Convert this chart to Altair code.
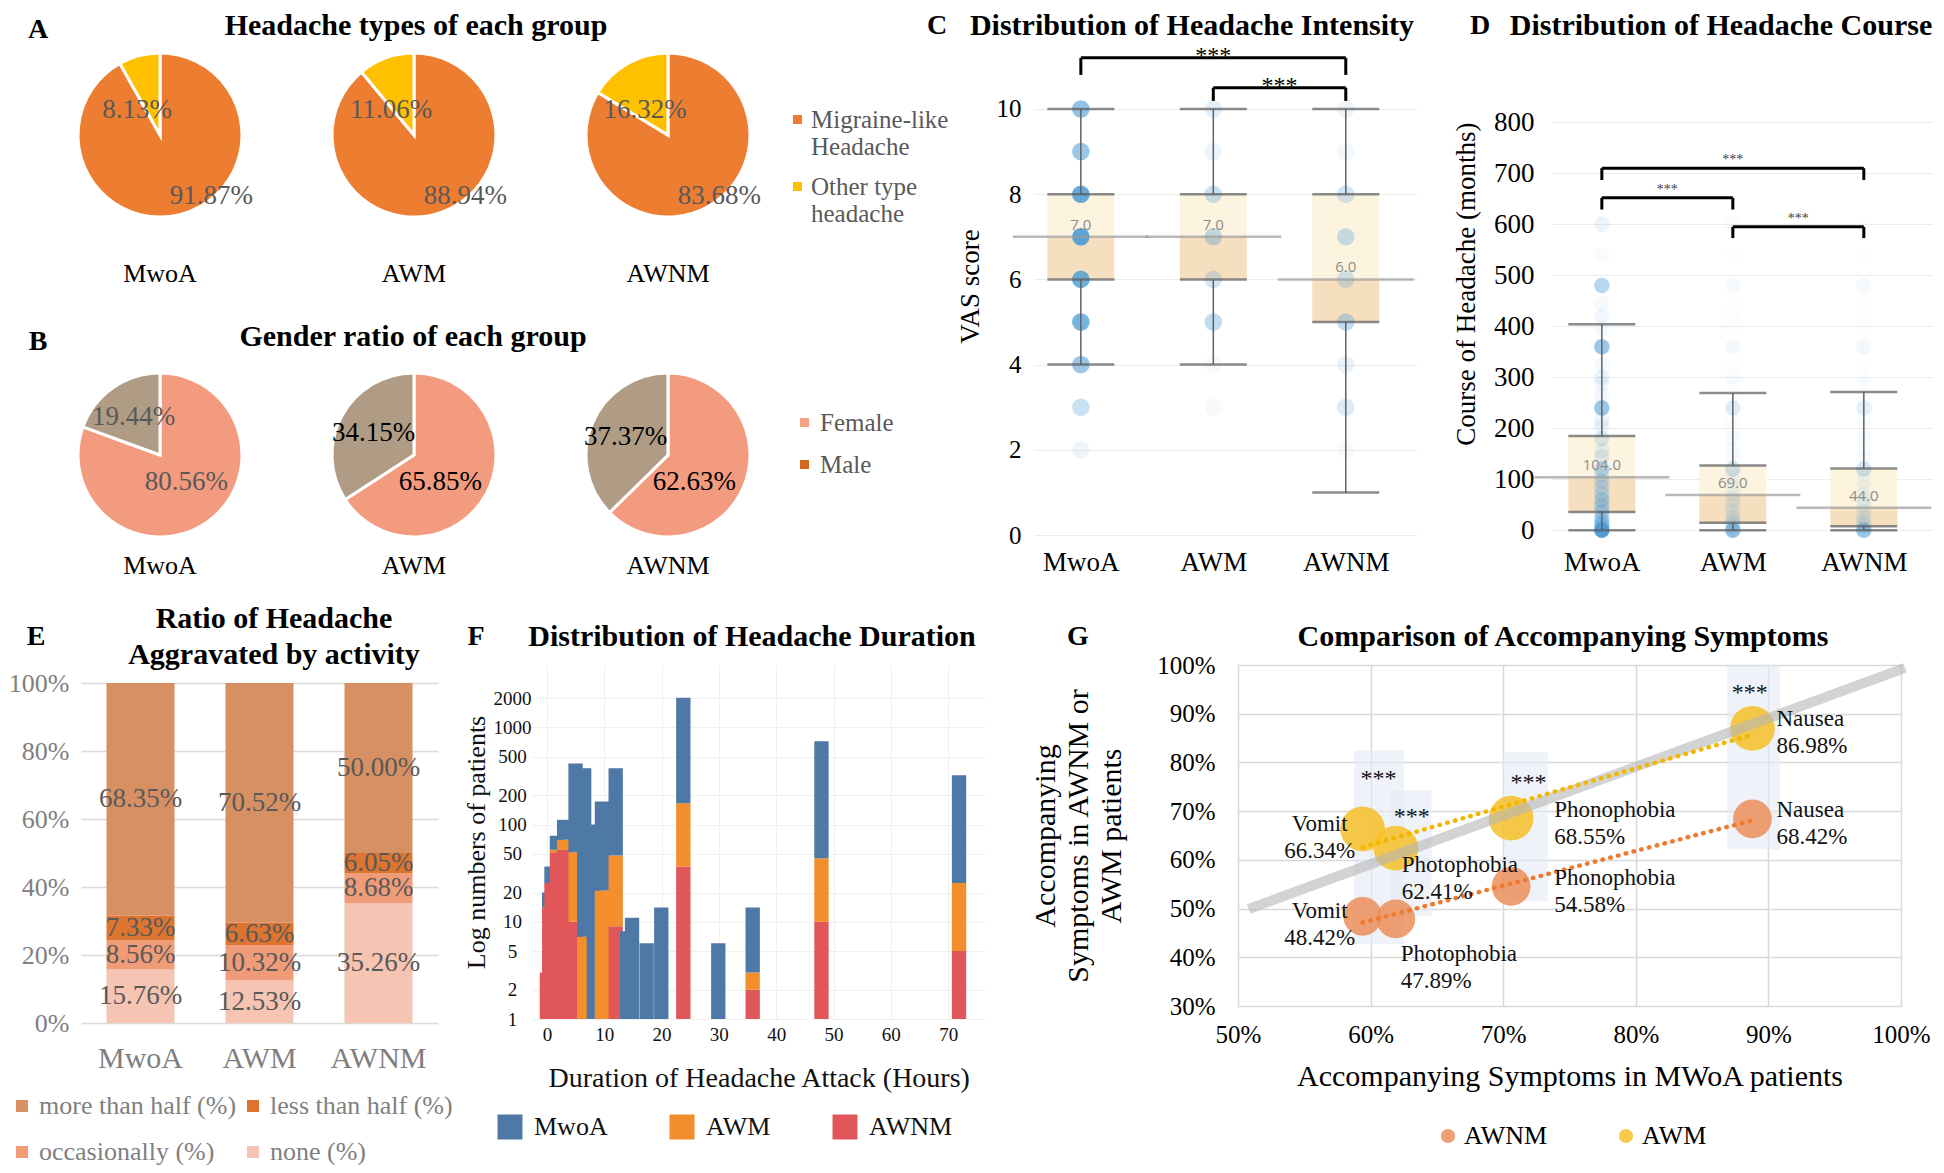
import altair as alt
import pandas as pd

SERIF = "Liberation Serif"
SANS = "Open Sans"

groups = ["MwoA", "AWM", "AWNM"]

# ---------------- Panel A : headache types (%)
type_names = ["Migraine-like|Headache", "Other type|headache"]
migraine_like = [91.87, 88.94, 83.68]
other_type = [8.13, 11.06, 16.32]

# ---------------- Panel B : gender (%)
sex_names = ["Female", "Male"]
female = [80.56, 65.85, 62.63]
male = [19.44, 34.15, 37.37]

# ---------------- Panel C : VAS score
vas_scores = [1, 2, 3, 4, 5, 6, 7, 8, 9, 10]
vas_mwoa = [0.0, 0.1, 0.3, 0.55, 0.75, 0.8, 0.9, 0.85, 0.55, 0.6]
vas_awm = [0.0, 0.0, 0.05, 0.05, 0.35, 0.25, 0.35, 0.3, 0.1, 0.15]
vas_awnm = [0.0, 0.05, 0.2, 0.12, 0.35, 0.25, 0.3, 0.25, 0.07, 0.1]
vas_low = [4, 4, 1]
vas_q1 = [6, 6, 5]
vas_med = [7, 7, 6]
vas_q3 = [8, 8, 8]
vas_high = [10, 10, 10]
vas_sig_from = [0, 1]
vas_sig_to = [2, 2]
vas_sig_level = [11.2, 10.5]
vas_sig_leg = [10.8, 10.19]

# ---------------- Panel D : course of headache (months)
course_months = [0, 6, 12, 18, 24, 36, 48, 60, 72, 84, 96, 108, 120, 144, 156, 180,
                 204, 216, 240, 264, 288, 300, 324, 360, 396, 420, 444, 480, 540, 600]
course_mwoa = [0.95, 0.35, 0.4, 0.25, 0.35, 0.35, 0.3, 0.35, 0.25, 0.2, 0.25, 0.15, 0.35, 0.15,
               0.12, 0.2, 0.1, 0.1, 0.55, 0.08, 0.08, 0.12, 0.06, 0.55, 0.06, 0.08, 0.05, 0.4, 0.04, 0.1]
course_awm = [0.6, 0.12, 0.15, 0.1, 0.12, 0.12, 0.1, 0.12, 0.06, 0.05, 0.06, 0.04, 0.25, 0.04,
              0.03, 0.05, 0.02, 0.02, 0.18, 0.02, 0.02, 0.03, 0.01, 0.07, 0.01, 0.02, 0.01, 0.05, 0.01, 0.03]
course_awnm = [0.55, 0.1, 0.12, 0.08, 0.1, 0.1, 0.08, 0.1, 0.05, 0.04, 0.05, 0.03, 0.25, 0.04,
               0.02, 0.04, 0.02, 0.02, 0.14, 0.02, 0.02, 0.02, 0.01, 0.07, 0.01, 0.02, 0.01, 0.06, 0.01, 0.02]
course_low = [0, 0, 0]
course_q1 = [36, 15, 8]
course_med = [104, 69, 44]
course_q3 = [185, 127, 121]
course_high = [404, 269, 271]
course_sig_from = [0, 0, 1]
course_sig_to = [2, 1, 2]
course_sig_level = [710, 652, 595]
course_sig_leg = [687, 629, 573]

# ---------------- Panel E : aggravated by activity (%)
act_cats = ["more than half (%)", "occasionally (%)", "less than half (%)", "none (%)"]
act_colors = ["#D79062", "#F09C78", "#DD7530", "#F6C4B2"]
act_more = [68.35, 70.52, 50.00]
act_less = [7.33, 6.63, 6.05]
act_occ = [8.56, 10.32, 8.68]
act_none = [15.76, 12.53, 35.26]

# ---------------- Panel F : duration of headache attack (hours) - patient counts
dur_hours = [0.0, 0.4, 0.8, 1.75, 3.0, 5.0, 6.5, 8.2, 9.6, 12.0, 14.0, 14.85, 17.4, 19.95,
             23.8, 29.9, 35.9, 47.9, 71.9]
dur_awnm = [3, 14, 25, 52, 55, 10, 0, 0, 0, 9, 0, 0, 0, 0, 37, 0, 2, 10, 5]
dur_awm = [0, 0, 0, 3, 15, 42, 7, 0, 21, 39, 0, 0, 0, 0, 129, 0, 1, 35, 20]
dur_mwoa = [0, 6, 12, 22, 42, 372, 373, 100, 152, 332, 8, 11, 6, 14, 1854, 6, 11, 675, 296]

# ---------------- Panel G : accompanying symptoms (%)
symptoms = ["Vomit", "Photophobia", "Phonophobia", "Nausea"]
sym_mwoa = [59.4, 61.9, 70.6, 88.8]
sym_awm = [66.34, 62.41, 68.55, 86.98]
sym_awnm = [48.42, 47.89, 54.58, 68.42]
sig_box_x0 = [58.75, 61.5, 69.95, 86.9]
sig_box_x1 = [62.5, 64.6, 73.4, 90.9]
sig_box_y0 = [42.7, 48.5, 51.5, 62.2]
sig_box_y1 = [82.5, 74.3, 82.1, 99.8]
sig_star_x = [60.6, 63.1, 71.9, 88.6]
sig_star_y = [77.6, 69.8, 76.8, 95.3]
ref_x = [50.8, 100.3]
ref_y = [49.9, 99.4]

GROUP_EXPR = "datum.value == 0 ? 'MwoA' : datum.value == 1 ? 'AWM' : 'AWNM'"


def spacer(w):
    return alt.Chart(pd.DataFrame({"z": [0]})).mark_point(opacity=0).encode(
        x=alt.value(0), y=alt.value(0)).properties(width=w, height=10)


def label_text(text, x, y, size=30, weight="bold", **mk):
    return alt.Chart(pd.DataFrame({"t": [text]})).mark_text(
        font=SERIF, fontSize=size, fontWeight=weight, baseline="middle", color="black", **mk).encode(
        x=alt.value(x), y=alt.value(y), text="t:N")


# =============== A + B pies (one chart) =================
pie_rows = []
pie_sets = [("A", type_names, [migraine_like, other_type], ["#ED7D31", "#FFC000"]),
            ("B", sex_names, [female, male], ["#F39B7F", "#B09C85"])]
for row, names, series, cols in pie_sets:
    for gi, g in enumerate(groups):
        start = 0.0
        for k in range(2):
            v = series[k][gi]
            pie_rows.append({"row": row, "group": g, "k": k, "cat": names[k], "t0": start,
                             "t1": start + v, "tm": start + v / 2, "fc": cols[k],
                             "label": f"{v:.2f}%",
                             "tc": "#000000" if (row == "B" and g != "MwoA") else "#595959"})
            start += v
pie_df = pd.DataFrame(pie_rows)

XG = alt.X("group:N", scale=alt.Scale(type="point", domain=groups, padding=0.5), axis=None)
YR = alt.Y("row:N", scale=alt.Scale(type="point", domain=["A", "B"], padding=0.30625), axis=None)
TH = alt.Scale(domain=[0, 100], range=[0, 6.283185307179586])

arcs = alt.Chart(pie_df).mark_arc(radius=82, stroke="white", strokeWidth=3).encode(
    x=XG, y=YR, theta=alt.Theta("t0:Q", scale=TH, stack=None), theta2="t1:Q",
    color=alt.Color("fc:N", scale=None, legend=None))
# label placement rule (similar to the spreadsheet "best fit" placement)
pie_lab = alt.Chart(pie_df).transform_calculate(
    la="datum.row == 'A' ? (datum.k == 0 ? 38.9 : 88.3) : (datum.k == 0 ? 37.8 : datum.tm)",
    lr="datum.row == 'A' ? (datum.k == 0 ? 80 : 34) : (datum.k == 0 ? 38 : 46)",
).mark_text(font=SERIF, fontSize=27).encode(
    x=XG, y=YR, theta=alt.Theta("la:Q", scale=TH, stack=None),
    radius=alt.Radius("lr:Q", scale=None), text="label:N",
    color=alt.Color("tc:N", scale=None, legend=None))

legA = alt.Chart(pd.DataFrame({"group": ["MwoA", "AWM"], "row": ["A", "A"], "cat": type_names})).mark_square(
    opacity=0).encode(x=XG, y=YR, color=alt.Color(
        "cat:N", scale=alt.Scale(domain=type_names, range=["#ED7D31", "#FFC000"]),
        legend=alt.Legend(title=None, orient="none", legendX=752, legendY=70, symbolType="square",
                          symbolSize=81, symbolOpacity=1, symbolStrokeWidth=0, labelFont=SERIF,
                          labelFontSize=25, labelColor="#595959", labelExpr="split(datum.label, '|')",
                          labelLimit=300, labelOffset=1, rowPadding=14, padding=0)))
legB = alt.Chart(pd.DataFrame({"group": ["MwoA", "AWM"], "row": ["B", "B"], "cat": sex_names})).mark_square(
    opacity=0).encode(x=XG, y=YR, color=alt.Color(
        "cat:N", scale=alt.Scale(domain=sex_names, range=["#F4A387", "#D2691E"]),
        legend=alt.Legend(title=None, orient="none", legendX=759, legendY=373, symbolType="square",
                          symbolSize=81, symbolOpacity=1, symbolStrokeWidth=0, labelFont=SERIF,
                          labelFontSize=25, labelColor="#595959", labelLimit=300, labelOffset=3,
                          rowPadding=16, padding=0)))


def ab_text(group, row, text, **mk):
    return alt.Chart(pd.DataFrame({"group": [group], "row": [row], "t": [text]})).mark_text(
        font=SERIF, **mk).encode(x=XG, y=YR, text="t:N")


ab_layers = [
    legA, legB, arcs, pie_lab,
    ab_text("AWM", "A", "Headache types of each group", fontSize=30, fontWeight="bold", dx=2, dy=-109),
    ab_text("AWM", "B", "Gender ratio of each group", fontSize=30, fontWeight="bold", dx=-1, dy=-118),
    ab_text("MwoA", "A", "A", fontSize=28, fontWeight="bold", dx=-122, dy=-105),
    ab_text("MwoA", "B", "B", fontSize=28, fontWeight="bold", dx=-122, dy=-113),
    alt.Chart(pd.DataFrame({"group": groups, "row": ["A"] * 3})).mark_text(
        font=SERIF, fontSize=26, dy=139).encode(x=XG, y=YR, text="group:N"),
    alt.Chart(pd.DataFrame({"group": groups, "row": ["B"] * 3})).mark_text(
        font=SERIF, fontSize=26, dy=111).encode(x=XG, y=YR, text="group:N"),
]
AB = alt.layer(*ab_layers).resolve_scale(color="independent").properties(width=762, height=516)


# =============== C and D box panels =================
def box_panel(box_df, pts_df, sig_df, xdom, ydom, yvals, width, height, ytitle, ylab_size,
              box_w, med_w, pt_size, star_size, star_dy, star_color, xlab_pad, ylab_pad,
              ytitle_pad, letter, letter_x, title_text, title_x):
    xs = alt.Scale(domain=xdom, nice=False, zero=False)
    ys = alt.Scale(domain=ydom, nice=False, zero=False)
    xax = alt.Axis(
        values=[0, 1, 2], labelExpr=GROUP_EXPR, title=None, grid=False, domain=False, ticks=False,
        labelFont=SERIF, labelFontSize=27, labelColor="black", labelPadding=xlab_pad, labelFlush=False)
    yax = alt.Axis(
        values=yvals, grid=True, gridColor="#ECECEC", domain=False, ticks=False, labelFont=SERIF,
        labelFontSize=ylab_size, labelColor="black", labelPadding=ylab_pad, labelFlush=False,
        title=ytitle, titleFont=SERIF, titleFontSize=27, titleFontWeight="normal",
        titleColor="black", titlePadding=ytitle_pad)

    def Xn(f="idx:Q"):
        return alt.X(f, scale=xs, axis=xax)

    def Yn(f):
        return alt.Y(f, scale=ys, axis=yax)

    base = alt.Chart(box_df)
    low_box = base.mark_bar(size=box_w, color="#F6DFBF").encode(x=Xn(), y=Yn("q1:Q"), y2="med:Q")
    up_box = base.mark_bar(size=box_w, color="#FDF4DF").encode(x=Xn(), y=Yn("med:Q"), y2="q3:Q")
    pts = alt.Chart(pts_df).mark_circle(size=pt_size, color="#4A9BD6").encode(
        x=Xn(), y=Yn("v:Q"),
        opacity=alt.Opacity("w:Q", scale=alt.Scale(domain=[0, 1], range=[0, 1]), legend=None))
    wlo = base.mark_rule(color="#606060", strokeWidth=1.5).encode(x=Xn(), y=Yn("lo:Q"), y2="q1:Q")
    whi = base.mark_rule(color="#606060", strokeWidth=1.5).encode(x=Xn(), y=Yn("q3:Q"), y2="hi:Q")
    caps = base.transform_fold(["lo", "q1", "q3", "hi"], as_=["k", "cv"]).mark_tick(
        orient="horizontal", size=box_w, thickness=2.5, color="#5A5A5A").encode(x=Xn(), y=Yn("cv:Q"))
    med = base.mark_tick(orient="horizontal", size=med_w, thickness=2.5, color="#9B9B9B").encode(
        x=Xn(), y=Yn("med:Q"))
    medt = base.transform_calculate(mt="format(datum.med, '.1f')").mark_text(
        font=SANS, fontSize=15, color="#8C8C8C", dy=-12).encode(x=Xn(), y=Yn("med:Q"), text="mt:N")
    brh = alt.Chart(sig_df).mark_rule(color="black", strokeWidth=3).encode(
        x=Xn("a:Q"), x2="b:Q", y=Yn("lvl:Q"))
    legs = alt.Chart(sig_df).transform_fold(["a", "b"], as_=["k", "pos"]).mark_rule(
        color="black", strokeWidth=3).encode(x=Xn("pos:Q"), y=Yn("leg:Q"), y2="lvl:Q")
    stars = alt.Chart(sig_df).transform_calculate(m="(datum.a + datum.b) / 2").mark_text(
        text="***", font=SERIF, fontSize=star_size, color=star_color, dy=star_dy,
        baseline="middle").encode(x=Xn("m:Q"), y=Yn("lvl:Q"))
    return alt.layer(low_box, up_box, pts, wlo, whi, caps, med, medt, brh, legs, stars,
                     label_text(letter, letter_x, -11, size=28),
                     label_text(title_text, title_x, -11)).properties(width=width, height=height)


def box_frame(lo, q1, md, q3, hi):
    return pd.DataFrame({"idx": [0, 1, 2], "lo": lo, "q1": q1, "med": md, "q3": q3, "hi": hi})


def pts_frame(vals, w_lists):
    rows = []
    for gi, ws in enumerate(w_lists):
        for v, w in zip(vals, ws):
            rows.append({"idx": gi, "v": v, "w": w})
    return pd.DataFrame(rows)


c_sig = pd.DataFrame({"a": vas_sig_from, "b": vas_sig_to, "lvl": vas_sig_level, "leg": vas_sig_leg})
C = box_panel(box_frame(vas_low, vas_q1, vas_med, vas_q3, vas_high),
              pts_frame(vas_scores, [vas_mwoa, vas_awm, vas_awnm]), c_sig,
              [-0.316, 2.5], [0, 11.69], [0, 2, 4, 6, 8, 10], 383, 498, "VAS score", 25,
              67, 136, 310, 24, -2, "black", 14, 13, 12,
              "C", -97, "Distribution of Headache Intensity", 158)

d_sig = pd.DataFrame({"a": course_sig_from, "b": course_sig_to, "lvl": course_sig_level,
                      "leg": course_sig_leg})
D = box_panel(box_frame(course_low, course_q1, course_med, course_q3, course_high),
              pts_frame(course_months, [course_mwoa, course_awm, course_awnm]), d_sig,
              [-0.35, 2.49], [0, 967.3], [0, 100, 200, 300, 400, 500, 600, 700, 800], 382, 493.3,
              "Course of Headache (months)", 27, 67, 135, 240, 14, -8, "#444444", 19, 17, 13,
              "D", -71, "Distribution of Headache Course", 170)

row1 = alt.hconcat(AB, spacer(239), C, spacer(134), D, spacing=0, bounds="flush").resolve_scale(
    color="independent", opacity="independent")

# =============== E stacked bars =================
e_rows = []
for gi, g in enumerate(groups):
    cum = 0.0
    for cat, arr in [("none (%)", act_none), ("occasionally (%)", act_occ),
                     ("less than half (%)", act_less), ("more than half (%)", act_more)]:
        v = arr[gi]
        e_rows.append({"group": g, "cat": cat, "y0": cum, "y1": cum + v, "mid": cum + v / 2,
                       "label": f"{v:.2f}%"})
        cum += v
e_df = pd.DataFrame(e_rows)
xe_scale = alt.Scale(domain=groups, paddingInner=0.4286, paddingOuter=0.2143)
ye_scale = alt.Scale(domain=[0, 105.3], nice=False, zero=False)
xe_ax = alt.Axis(title=None, labelAngle=0, domain=False, ticks=False, labelFont=SERIF,
                 labelFontSize=30, labelColor="#7F7F7F", labelPadding=20)
ye_ax = alt.Axis(values=[0, 20, 40, 60, 80, 100], labelExpr="datum.value + '%'", grid=True,
                 gridColor="#D9D9D9", gridWidth=1.5, domain=False, ticks=False, labelFont=SERIF,
                 labelFontSize=26, labelColor="#7F7F7F", labelPadding=12, labelFlush=False,
                 title=None)
e_bars = alt.Chart(e_df).mark_bar().encode(
    x=alt.X("group:N", scale=xe_scale, axis=xe_ax),
    y=alt.Y("y0:Q", scale=ye_scale, axis=ye_ax),
    y2="y1:Q",
    color=alt.Color("cat:N", scale=alt.Scale(domain=act_cats, range=act_colors),
                    legend=alt.Legend(title=None, orient="none", legendX=-72, legendY=428, columns=2,
                                      symbolType="square", symbolSize=144, symbolStrokeWidth=0,
                                      labelFont=SERIF, labelFontSize=26, labelColor="#7F7F7F",
                                      labelLimit=400, labelOffset=4, columnPadding=3,
                                      rowPadding=20, padding=0)))
e_text = alt.Chart(e_df).mark_text(font=SERIF, fontSize=27, color="#595959").encode(
    x=alt.X("group:N", scale=xe_scale, axis=xe_ax),
    y=alt.Y("mid:Q", scale=ye_scale, axis=ye_ax), text="label:N")
E = alt.layer(
    e_bars, e_text,
    label_text("E", -45, -28, size=28),
    label_text("Ratio of Headache", 193, -46),
    label_text("Aggravated by activity", 193, -10),
).properties(width=357, height=358)

# =============== F duration histogram (log) =================
f_rows = []
for i, d in enumerate(dur_hours):
    cum = 0.0
    for grp, arr in [("AWNM", dur_awnm), ("AWM", dur_awm), ("MwoA", dur_mwoa)]:
        c = arr[i]
        if c <= 0:
            continue
        f_rows.append({"bar": i, "grp": grp, "x0": d - 1.25, "x1": d + 1.25,
                       "y0": max(cum, 1.0), "y1": cum + c})
        cum += c
f_df = pd.DataFrame(f_rows)
f_bars = alt.Chart(f_df).mark_rect().encode(
    x=alt.X("x0:Q", scale=alt.Scale(domain=[-2.6, 76.5], nice=False, zero=False), axis=alt.Axis(
        values=[0, 10, 20, 30, 40, 50, 60, 70], grid=True, gridColor="#F0F0F0", domain=False,
        ticks=False, labelFont=SERIF, labelFontSize=19, labelColor="#111111", labelPadding=6,
        labelFlush=False, title="Duration of Headache Attack (Hours)", titleFont=SERIF,
        titleFontSize=28, titleFontWeight="normal", titleColor="#111111", titlePadding=20)),
    x2="x1:Q",
    y=alt.Y("y0:Q", scale=alt.Scale(type="log", domain=[1, 4385], nice=False), axis=alt.Axis(
        values=[1, 2, 5, 10, 20, 50, 100, 200, 500, 1000, 2000], format="d", grid=True,
        gridColor="#F0F0F0", domain=False, ticks=False, labelFont=SERIF, labelFontSize=19,
        labelColor="#111111", labelAlign="center", labelPadding=20, labelFlush=False,
        title="Log numbers of patients", titleFont=SERIF, titleFontSize=26,
        titleFontWeight="normal", titleColor="#111111", titlePadding=4)),
    y2="y1:Q",
    color=alt.Color("grp:N", scale=alt.Scale(domain=groups, range=["#4E79A7", "#F28E2B", "#E15759"]),
                    legend=alt.Legend(title=None, orient="none", legendX=-35, legendY=449, columns=3,
                                      symbolType="square", symbolSize=625, symbolStrokeWidth=0,
                                      labelFont=SERIF, labelFontSize=26, labelColor="#111111",
                                      labelOffset=11, columnPadding=61, padding=0)))
F = alt.layer(
    f_bars,
    label_text("F", -56, -28, size=28),
    label_text("Distribution of Headache Duration", 220, -28),
).properties(width=453.4, height=354)

# =============== G accompanying symptoms =================
g_rows = []
for i, s in enumerate(symptoms):
    g_rows.append({"symptom": s, "series": "AWM", "mwoa": sym_mwoa[i], "val": sym_awm[i],
                   "label": f"{s}\n{sym_awm[i]:.2f}%"})
    g_rows.append({"symptom": s, "series": "AWNM", "mwoa": sym_mwoa[i], "val": sym_awnm[i],
                   "label": f"{s}\n{sym_awnm[i]:.2f}%"})
g_df = pd.DataFrame(g_rows)
gx = alt.Scale(domain=[50, 100], nice=False, zero=False)
gy = alt.Scale(domain=[30, 100], nice=False, zero=False)
gx_ax = alt.Axis(
    values=[50, 60, 70, 80, 90, 100], labelExpr="datum.value + '%'", grid=True,
    gridColor="#D9D9D9", gridWidth=1.5, domain=False, ticks=False, labelFont=SERIF,
    labelFontSize=25, labelColor="black", labelPadding=16, labelFlush=False,
    title="Accompanying Symptoms in MWoA patients", titleFont=SERIF, titleFontSize=30,
    titleFontWeight="normal", titleColor="black", titlePadding=14)
gy_ax = alt.Axis(
    values=[30, 40, 50, 60, 70, 80, 90, 100], labelExpr="datum.value + '%'", grid=True,
    gridColor="#D9D9D9", gridWidth=1.5, domain=False, ticks=False, labelFont=SERIF,
    labelFontSize=25, labelColor="black", labelPadding=23, labelFlush=False,
    title=["Accompanying", "Symptoms in AWNM or", "AWM patients"], titleFont=SERIF,
    titleFontSize=30, titleFontWeight="normal", titleColor="black", titleLineHeight=33,
    titlePadding=30)


def GX(f):
    return alt.X(f, scale=gx, axis=gx_ax)


def GY(f):
    return alt.Y(f, scale=gy, axis=gy_ax)


hl_df = pd.DataFrame({"x0": sig_box_x0, "x1": sig_box_x1, "y0": sig_box_y0, "y1": sig_box_y1})
g_hl = alt.Chart(hl_df).mark_rect(color="#E4E9F4", opacity=0.6).encode(
    x=GX("x0:Q"), x2="x1:Q", y=GY("y0:Q"), y2="y1:Q")
g_color = alt.Color("series:N", scale=alt.Scale(domain=["AWNM", "AWM"], range=["#EB8F5A", "#F6C028"]),
                    legend=alt.Legend(title=None, orient="none", legendX=197, legendY=458, columns=2,
                                      symbolType="circle", symbolSize=200, symbolStrokeWidth=0,
                                      symbolOpacity=0.85, labelFont=SERIF, labelFontSize=26,
                                      labelColor="black", labelOffset=3, columnPadding=65,
                                      padding=0))
g_bub_awnm = alt.Chart(g_df[g_df["series"] == "AWNM"]).mark_circle(opacity=0.85, size=1500).encode(
    x=GX("mwoa:Q"), y=GY("val:Q"), color=g_color)
g_bub_awm = alt.Chart(g_df[g_df["series"] == "AWM"]).mark_circle(opacity=0.85, size=2000).encode(
    x=GX("mwoa:Q"), y=GY("val:Q"), color=g_color)
g_ref = alt.Chart(pd.DataFrame({"x": ref_x, "y": ref_y})).mark_line(
    color="#B5B5B5", strokeWidth=10, opacity=0.6).encode(x=GX("x:Q"), y=GY("y:Q"))


def g_trend(series, color):
    return alt.Chart(g_df[g_df["series"] == series]).transform_regression("mwoa", "val").mark_line(
        color=color, strokeWidth=4.5, strokeDash=[0.5, 7.5], strokeCap="round").encode(
        x=GX("mwoa:Q"), y=GY("val:Q"))


def g_labels(mask, align, dx, dy):
    return alt.Chart(g_df[mask]).mark_text(
        font=SERIF, fontSize=23, color="#111111", lineBreak="\n", align=align, dx=dx, dy=dy,
        baseline="middle", lineHeight=27).encode(x=GX("mwoa:Q"), y=GY("val:Q"), text="label:N")


sym = g_df["symptom"]
ser = g_df["series"]
g_stars = alt.Chart(pd.DataFrame({"x": sig_star_x, "y": sig_star_y})).mark_text(
    text="***", font=SERIF, fontSize=24, color="#111111", dy=5, baseline="middle").encode(
    x=GX("x:Q"), y=GY("y:Q"))
G = alt.layer(
    g_hl, g_bub_awnm, g_bub_awm, g_ref, g_trend("AWM", "#F2B800"), g_trend("AWNM", "#EE7A30"),
    g_labels(sym == "Vomit", "center", -43, -5),
    g_labels((sym == "Photophobia") & (ser == "AWM"), "left", 6, 17),
    g_labels((sym == "Photophobia") & (ser == "AWNM"), "left", 5, 35),
    g_labels(sym == "Phonophobia", "left", 43, -8),
    g_labels(sym == "Nausea", "left", 24, -9),
    g_stars,
    label_text("G", -160, -28, size=28),
    label_text("Comparison of Accompanying Symptoms", 325, -28),
).properties(width=663, height=341)

row2 = alt.hconcat(spacer(48), E, spacer(93.6), F, spacer(252), G, spacing=0,
                   bounds="flush").resolve_scale(color="independent")

chart = alt.vconcat(row1, row2, spacing=25,
                    padding={"left": 0, "top": 3, "right": 0, "bottom": 0},
                    background="white").resolve_scale(
    color="independent", opacity="independent").configure_view(
    stroke=None).configure_text(font=SERIF)

chart.save("out.html", embed_options={"renderer": "svg", "actions": False})
